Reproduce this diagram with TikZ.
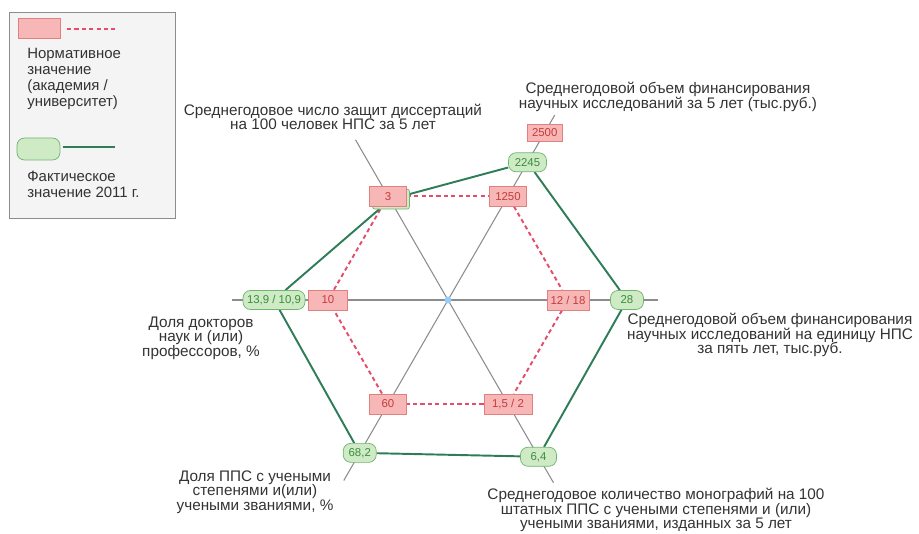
\documentclass[tikz,border=0pt]{standalone}
\usepackage{fontspec}
\setmainfont{Liberation Sans}
\usetikzlibrary{calc,backgrounds}
\definecolor{normfill}{RGB}{247,183,183}
\definecolor{normdraw}{RGB}{226,128,128}
\definecolor{normtext}{RGB}{196,60,60}
\definecolor{normline}{RGB}{226,78,108}
\definecolor{factfill}{RGB}{206,235,198}
\definecolor{factdraw}{RGB}{112,180,112}
\definecolor{facttext}{RGB}{60,140,60}
\definecolor{factline}{RGB}{46,125,88}
\definecolor{axisgray}{RGB}{140,140,140}
\definecolor{centerblue}{RGB}{150,205,245}
\definecolor{legendgray}{RGB}{244,244,244}

\begin{document}
\begin{tikzpicture}[
		norm/.style={draw=normdraw,fill=normfill,text=normtext,font=\fontsize{6.5}{7}\selectfont,minimum width=0.74cm,minimum height=0.4cm,inner sep=2pt},
		fact/.style={draw=factdraw,fill=factfill,text=facttext,font=\fontsize{6.5}{7}\selectfont,rounded corners=0.15cm,minimum width=0.66cm,minimum height=0.38cm,inner sep=2pt},
		normlink/.style={normline,line width=1.1pt,dash pattern=on 2.4pt off 1.8pt},
		factlink/.style={factline,line width=1.1pt},
		axisline/.style={axisgray,line width=0.6pt},
		caption/.style={text=black!80,font=\fontsize{8.7}{8.3}\selectfont,align=center}]
		\useasboundingbox (-8.96,-4.68) rectangle (9.42,6.0);
		\node (O) at (0,0) [circle,fill=centerblue,inner sep=0pt,minimum size=0.14cm] {};
		\coordinate (E1) at (0:4.2);
		\coordinate (E2) at (60:4.27);
		\coordinate (E3) at (120:3.7);
		\coordinate (E4) at (180:4.32);
		\coordinate (E5) at (240:4.17);
		\coordinate (E6) at (300:4.22);
		\node (F3) at ($(120:2.4) + (0.06,-0.06)$) [fact,rounded corners=0.05cm,minimum width=0.74cm,minimum height=0.4cm] {};
		\node (N1) at (0:2.4) [norm,minimum width=0.84cm] {12 / 18};
		\node (N2) at (60:2.4) [norm] {1250};
		\node (N3) at (120:2.4) [norm] {3};
		\node (N4) at (180:2.4) [norm,minimum width=0.78cm] {10};
		\node (N5) at (240:2.4) [norm] {60};
		\node (N6) at (300:2.4) [norm,minimum width=0.96cm] {1,5 / 2};
		\node (N7) at (60:3.87) [norm,minimum width=0.7cm,minimum height=0.34cm] {2500};
		\node (F1) at (0:3.58) [fact] {28};
		\node (F2) at (60:3.18) [fact,minimum width=0.76cm] {2245};
		\node (F4) at (180:3.48) [fact,minimum width=1.24cm] {13,9 / 10,9};
		\node (F5) at (240:3.53) [fact] {68,2};
		\node (F6) at (300:3.62) [fact,minimum width=0.72cm] {6,4};
		\node (T1) at (6.44,-0.7) [caption] {Среднегодовой объем финансирования\\научных исследований на единицу НПС\\за пять лет, тыс.руб.};
		\node (T2) at (4.4,4.06) [caption] {Среднегодовой объем финансирования\\научных исследований за 5 лет (тыс.руб.)};
		\node (T3) at (-2.3,3.66) [caption] {Среднегодовое число защит диссертаций\\на 100 человек НПС за 5 лет};
		\node (T4) at (-4.94,-0.76) [caption] {Доля докторов\\наук и (или)\\профессоров, \%};
		\node (T5) at (-3.86,-3.84) [caption] {Доля ППС с учеными\\степенями и(или)\\учеными званиями, \%};
		\node (T6) at (4.16,-4.2) [caption] {Среднегодовое количество монографий на 100\\штатных ППС с учеными степенями и (или)\\учеными званиями, изданных за 5 лет};
		\node (K) at (-7.12,3.7) [draw=axisgray,fill=legendgray,minimum width=3.32cm,minimum height=4.12cm] {};
		\node (K1) at (-8.18,5.44) [norm,minimum width=0.84cm,minimum height=0.4cm] {};
		\coordinate (K1a) at (-7.62,5.42);
		\coordinate (K1b) at (-6.6,5.42);
		\node (K2) at (-8.42,5.04) [anchor=north west,inner sep=0pt,caption,align=left,font=\fontsize{8.5}{9.1}\selectfont] {Нормативное\\значение\\(академия /\\университет)};
		\node (K3) at (-8.19,3.02) [fact,minimum width=0.86cm,minimum height=0.44cm] {};
		\coordinate (K3a) at (-7.7,3.06);
		\coordinate (K3b) at (-6.66,3.06);
		\node (K4) at (-8.42,2.58) [anchor=north west,inner sep=0pt,caption,align=left,font=\fontsize{8.5}{9.1}\selectfont] {Фактическое\\значение 2011 г.};
		\draw[normlink] (K1a) -- (K1b);
		\draw[factlink] (K3a) -- (K3b);
		\begin{scope}[on background layer]
			\draw[axisline] (O.center) -- (E1);
			\draw[axisline] (O.center) -- (E2);
			\draw[axisline] (O.center) -- (E3);
			\draw[axisline] (O.center) -- (E4);
			\draw[axisline] (O.center) -- (E5);
			\draw[axisline] (O.center) -- (E6);
			\draw[normlink] (N3) -- (N2);
			\draw[normlink] (N2) -- (N1);
			\draw[normlink] (N1) -- (N6);
			\draw[normlink] (N6) -- (N5);
			\draw[normlink] (N5) -- (N4);
			\draw[normlink] (N4) -- (N3);
			\draw[factlink] (F3) -- (F2);
			\draw[factlink] (F2) -- (F1);
			\draw[factlink] (F1) -- (F6);
			\draw[factlink] (F6) -- (F5);
			\draw[factlink] (F5) -- (F4);
			\draw[factlink] (F4) -- (F3);
		\end{scope}
	\end{tikzpicture}
\end{document}
